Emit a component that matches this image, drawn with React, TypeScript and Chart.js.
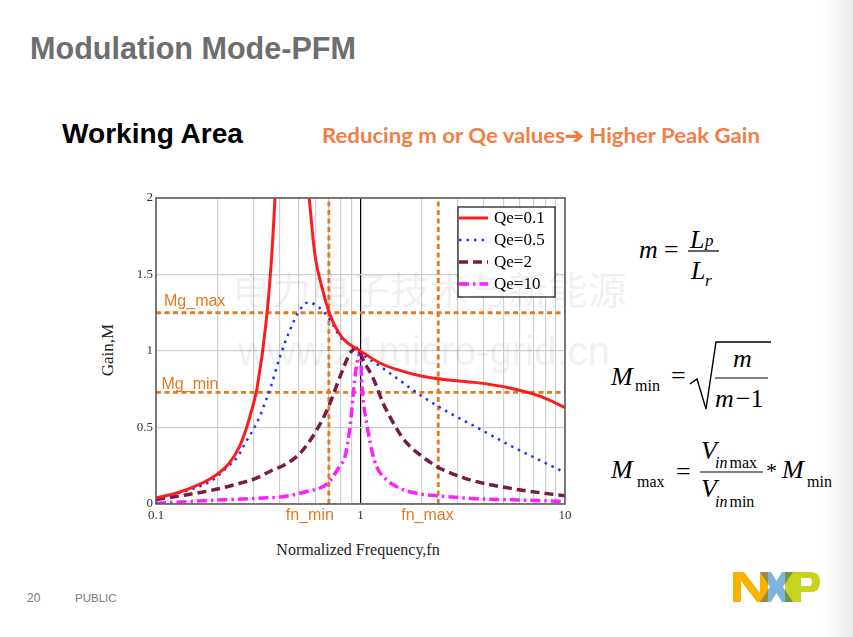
import React, { useEffect, useRef } from "react";
import { Chart, registerables } from "chart.js";

Chart.register(...registerables);

// ---- data ----
const FN_QE01 = [0.1, 0.125, 0.157, 0.197, 0.228, 0.256, 0.275, 0.291, 0.303, 0.311, 0.345, 0.368, 0.382, 0.47, 0.561, 0.6, 0.653, 0.704, 0.81, 1.0, 1.25, 1.5, 2.0, 2.7, 3.6, 5.3, 7.7, 10];
const GAIN_QE01 = [0.04, 0.07, 0.118, 0.19, 0.266, 0.375, 0.484, 0.593, 0.68, 0.745, 1.18, 1.62, 2.0, null, 2.0, 1.62, 1.4, 1.25, 1.09, 1.0, 0.92, 0.88, 0.835, 0.81, 0.795, 0.76, 0.7, 0.63];

const FN_QE05 = [0.1, 0.146, 0.189, 0.224, 0.251, 0.27, 0.316, 0.338, 0.36, 0.404, 0.452, 0.5, 0.556, 0.634, 0.71, 0.794, 0.87, 1.0, 1.155, 1.393, 1.67, 2.02, 2.66, 3.64, 5.31, 7.74, 10];
const GAIN_QE05 = [0.035, 0.092, 0.157, 0.244, 0.31, 0.386, 0.549, 0.647, 0.745, 0.963, 1.137, 1.26, 1.318, 1.279, 1.203, 1.094, 1.05, 0.985, 0.93, 0.854, 0.778, 0.7, 0.603, 0.506, 0.387, 0.278, 0.206];

const FN_QE2 = [0.1, 0.14, 0.197, 0.256, 0.308, 0.372, 0.424, 0.506, 0.611, 0.698, 0.794, 0.889, 0.957, 1.05, 1.155, 1.29, 1.393, 1.59, 1.75, 1.96, 2.37, 2.66, 3.64, 5.31, 7.74, 10];
const GAIN_QE2 = [0.03, 0.059, 0.096, 0.135, 0.168, 0.222, 0.255, 0.331, 0.484, 0.636, 0.832, 0.985, 1.018, 0.92, 0.82, 0.658, 0.57, 0.44, 0.375, 0.32, 0.244, 0.211, 0.148, 0.104, 0.072, 0.054];

const FN_QE10 = [0.1, 0.176, 0.308, 0.417, 0.55, 0.684, 0.794, 0.84, 0.889, 0.922, 0.95, 0.98, 1.0, 1.014, 1.035, 1.072, 1.134, 1.2, 1.343, 1.56, 1.88, 2.45, 3.6, 5.31, 10];
const GAIN_QE10 = [0.005, 0.022, 0.037, 0.048, 0.083, 0.13, 0.25, 0.31, 0.505, 0.72, 0.88, 0.97, 1.0, 0.79, 0.66, 0.527, 0.353, 0.244, 0.157, 0.102, 0.07, 0.052, 0.035, 0.028, 0.017];

const SERIES_LABELS = ["Qe=0.1", "Qe=0.5", "Qe=2", "Qe=10"];

const MG_MAX = 1.25;
const MG_MIN = 0.73;
const FN_MIN = 0.7;
const FN_MAX = 2.4;

const X_MIN = 0.1;
const X_MAX = 10;
const Y_MIN = 0;
const Y_MAX = 2;
const X_GRID_TICKS = [0.1, 0.2, 0.3, 0.4, 0.5, 0.6, 0.7, 0.8, 0.9, 1, 2, 3, 4, 5, 6, 7, 8, 9, 10];
const X_TICK_LABELS = [0.1, 1, 10];
const Y_TICKS = [0, 0.5, 1, 1.5, 2];

const zip = (xs: number[], ys: (number | null)[]) => xs.map((x, i) => ({ x, y: ys[i] }));

const ORANGE = "#E07B22";
const SERIF = "'Liberation Serif', 'Times New Roman', serif";
const SANS = "'Liberation Sans', Arial, sans-serif";

const framePlugin = {
  id: "frameAndLegend",
  afterDatasetsDraw(chart: any) {
    const { ctx, chartArea } = chart;
    const { left, top, right, bottom } = chartArea;
    const xs = chart.scales.x;
    const ys = chart.scales.y;
    ctx.save();
    // plot frame
    ctx.strokeStyle = "#555";
    ctx.lineWidth = 1.5;
    ctx.setLineDash([]);
    ctx.strokeRect(left, top, right - left, bottom - top);

    // orange annotation labels
    ctx.fillStyle = ORANGE;
    ctx.font = `16px ${SANS}`;
    ctx.textAlign = "left";
    ctx.textBaseline = "alphabetic";
    ctx.fillText("Mg_max", left + 8, ys.getPixelForValue(MG_MAX) - 7);
    ctx.fillText("Mg_min", left + 5.5, ys.getPixelForValue(MG_MIN) - 3);
    ctx.fillText("fn_min", xs.getPixelForValue(FN_MIN) - 43, bottom + 15.5);
    ctx.fillText("fn_max", xs.getPixelForValue(FN_MAX) - 37, bottom + 15.5);

    // legend box
    const bx = right - 107;
    const by = top + 9;
    const bw = 97;
    const bh = 90;
    ctx.fillStyle = "#fff";
    ctx.fillRect(bx, by, bw, bh);
    ctx.strokeStyle = "#111";
    ctx.lineWidth = 1.2;
    ctx.strokeRect(bx, by, bw, bh);
    ctx.font = `17px ${SERIF}`;
    ctx.textBaseline = "middle";
    SERIES_LABELS.forEach((lbl, i) => {
      const ds = chart.data.datasets[i];
      const cy = by + 11 + i * 22;
      ctx.strokeStyle = ds.borderColor;
      ctx.lineWidth = ds.borderWidth;
      ctx.setLineDash(ds.borderDash || []);
      ctx.beginPath();
      ctx.moveTo(bx + 1, cy);
      ctx.lineTo(bx + 30, cy);
      ctx.stroke();
      ctx.setLineDash([]);
      ctx.fillStyle = "#000";
      ctx.fillText(lbl, bx + 36, cy + 1);
    });
    ctx.restore();
  },
};

function ChartBox() {
  const ref = useRef<HTMLCanvasElement | null>(null);
  useEffect(() => {
    if (!ref.current) return;
    const curve = (label: string, xs: number[], ys: (number | null)[], color: string, width: number, dash: number[]) => ({
      label,
      data: zip(xs, ys),
      borderColor: color,
      borderWidth: width,
      borderDash: dash,
      pointRadius: 0,
      cubicInterpolationMode: "monotone",
      spanGaps: false,
      fill: false,
      order: 0,
    });
    const refLine = (pts: { x: number; y: number }[]) => ({
      label: "",
      data: pts,
      borderColor: ORANGE,
      borderWidth: 2.8,
      borderDash: [5, 3.5],
      pointRadius: 0,
      tension: 0,
      fill: false,
      order: 1,
    });
    const chart = new Chart(ref.current, {
      type: "line",
      data: {
        datasets: [
          curve(SERIES_LABELS[0], FN_QE01, GAIN_QE01, "#FF1C1C", 3, []),
          curve(SERIES_LABELS[1], FN_QE05, GAIN_QE05, "#2233FF", 2.5, [2.5, 5]),
          curve(SERIES_LABELS[2], FN_QE2, GAIN_QE2, "#7A1A48", 3.5, [9, 5]),
          curve(SERIES_LABELS[3], FN_QE10, GAIN_QE10, "#FF1EFF", 3.5, [10, 4, 2.5, 4]),
          refLine([{ x: X_MIN, y: MG_MAX }, { x: X_MAX, y: MG_MAX }]),
          refLine([{ x: X_MIN, y: MG_MIN }, { x: X_MAX, y: MG_MIN }]),
          refLine([{ x: FN_MIN, y: Y_MIN }, { x: FN_MIN, y: Y_MAX }]),
          refLine([{ x: FN_MAX, y: Y_MIN }, { x: FN_MAX, y: Y_MAX }]),
        ] as any,
      },
      options: {
        animation: false,
        responsive: false,
        maintainAspectRatio: false,
        layout: { padding: { left: 0, top: 13, right: 15, bottom: 0 } },
        plugins: { legend: { display: false }, tooltip: { enabled: false } },
        scales: {
          x: {
            type: "logarithmic",
            min: X_MIN,
            max: X_MAX,
            afterBuildTicks: (s: any) => {
              s.ticks = X_GRID_TICKS.map((v) => ({ value: v }));
            },
            afterFit: (s: any) => {
              s.height = 21;
            },
            ticks: {
              autoSkip: false,
              maxRotation: 0,
              padding: 4,
              color: "#333",
              font: { family: SERIF, size: 13 },
              callback: (v: any) => (X_TICK_LABELS.includes(Number(v)) ? String(v) : ""),
            },
            grid: {
              drawTicks: false,
              lineWidth: 1.2,
              color: (c: any) => (c.tick && c.tick.value === 1 ? "#000" : "#cfcfcf"),
            },
            border: { display: false },
          },
          y: {
            type: "linear",
            min: Y_MIN,
            max: Y_MAX,
            afterBuildTicks: (s: any) => {
              s.ticks = Y_TICKS.map((v) => ({ value: v }));
            },
            afterFit: (s: any) => {
              s.width = 66;
            },
            ticks: {
              padding: 3,
              color: "#333",
              font: { family: SERIF, size: 13 },
              callback: (v: any) => String(v),
            },
            grid: { drawTicks: false, lineWidth: 1.2, color: "#cfcfcf" },
            border: { display: false },
          },
        },
      } as any,
      plugins: [framePlugin],
    });
    return () => chart.destroy();
  }, []);
  return (
    <canvas
      ref={ref}
      width={490}
      height={340}
      style={{ position: "absolute", left: 90, top: 185, width: 490, height: 340, zIndex: 1 }}
    />
  );
}

function Slide() {
  const it = { fontStyle: "italic" } as any;
  return (
    <svg width={853} height={637} style={{ position: "absolute", left: 0, top: 0, zIndex: 0 }}>
      <defs>
        <linearGradient id="edge" x1="0" x2="1" y1="0" y2="0">
          <stop offset="0" stopColor="#ffffff" />
          <stop offset="1" stopColor="#ebebeb" />
        </linearGradient>
        <clipPath id="clipN">
          <rect x={760} y={570} width={8} height={34} />
        </clipPath>
        <clipPath id="clipP">
          <rect x={785} y={570} width={8} height={34} />
        </clipPath>
      </defs>
      <rect x={822} y={0} width={31} height={637} fill="url(#edge)" />
      {/* titles */}
      <text x={30} y={59} fontFamily={SANS} fontWeight="bold" fontSize={31} fill="#6e6e6e" textLength={326} lengthAdjust="spacingAndGlyphs">
        Modulation Mode-PFM
      </text>
      <text x={62} y={143} fontFamily={SANS} fontWeight="bold" fontSize={27} fill="#000" textLength={181} lengthAdjust="spacingAndGlyphs">
        Working Area
      </text>
      <text x={322} y={143} fontFamily="Lato, 'Open Sans', sans-serif" fontWeight="bold" fontSize={21} fill="#F27E45" textLength={438} lengthAdjust="spacingAndGlyphs">
        Reducing m or Qe values➔ Higher Peak Gain
      </text>

      {/* axis titles */}
      <text transform="translate(113,350) rotate(-90)" textAnchor="middle" fontFamily={SERIF} fontSize={17} fill="#222">
        Gain,M
      </text>
      <text x={358} y={555} textAnchor="middle" fontFamily={SERIF} fontSize={16} fill="#222">
        Normalized Frequency,fn
      </text>

      {/* formula 1: m = Lp / Lr */}
      <g fontFamily={SERIF} fill="#000">
        <text x={639} y={258} fontSize={26} {...it}>m</text>
        <text x={664} y={258} fontSize={26}>=</text>
        <line x1={688} x2={719} y1={251} y2={251} stroke="#000" strokeWidth={1.2} />
        <text x={690} y={248} fontSize={26} {...it}>L</text>
        <text x={705} y={246} fontSize={17} {...it}>p</text>
        <text x={691} y={279} fontSize={26} {...it}>L</text>
        <text x={705} y={286} fontSize={17} {...it}>r</text>

        {/* formula 2: Mmin = sqrt(m/(m-1)) */}
        <text x={611} y={385} fontSize={26} {...it}>M</text>
        <text x={635} y={391} fontSize={16}>min</text>
        <text x={671} y={384} fontSize={26}>=</text>
        <polyline points="690,384 697,379 706,409 716,342 771,342" fill="none" stroke="#000" strokeWidth={1.4} />
        <text x={733} y={367} fontSize={26} {...it}>m</text>
        <line x1={715} x2={768} y1={378} y2={378} stroke="#000" strokeWidth={1.2} />
        <text x={715} y={407} fontSize={26}>
          <tspan {...it}>m</tspan>
          <tspan dx={2}>−1</tspan>
        </text>

        {/* formula 3: Mmax = Vinmax/Vinmin * Mmin */}
        <text x={611} y={478} fontSize={26} {...it}>M</text>
        <text x={637} y={487} fontSize={16}>max</text>
        <text x={676} y={480} fontSize={26}>=</text>
        <line x1={700} x2={763} y1={472} y2={472} stroke="#000" strokeWidth={1.2} />
        <text x={701} y={459} fontSize={26} {...it}>V</text>
        <text x={715} y={468} fontSize={16}>
          <tspan {...it}>in</tspan>
          <tspan dx={2}>max</tspan>
        </text>
        <text x={701} y={497} fontSize={26} {...it}>V</text>
        <text x={715} y={507} fontSize={16}>
          <tspan {...it}>in</tspan>
          <tspan dx={2}>min</tspan>
        </text>
        <text x={766} y={478} fontSize={22}>*</text>
        <text x={782} y={478} fontSize={26} {...it}>M</text>
        <text x={807} y={487} fontSize={16}>min</text>
      </g>

      {/* footer */}
      <text x={27} y={602} fontFamily={SANS} fontSize={12} fill="#7a7a7a">20</text>
      <text x={75} y={602} fontFamily={SANS} fontSize={11.5} fill="#7a7a7a">PUBLIC</text>

      {/* NXP logo */}
      <g>
        <polygon points="733,572 744,572 760,593 760,572 768,572 768,602 757,602 741,581 741,602 733,602" fill="#F9B200" />
        <path d="M793 572 H811 Q820 572 820 582 Q820 592 811 592 H801 V602 H785 V572 Z M801 578 V586 H809 Q812 586 812 582 Q812 578 809 578 Z" fill="#C8D31E" fillRule="evenodd" />
        <polygon points="760,572 771,572 776.5,581 782,572 793,572 783,587 793,602 782,602 776.5,593 771,602 760,602 770,587" fill="#7DB3DE" />
        <polygon points="760,572 771,572 776.5,581 782,572 793,572 783,587 793,602 782,602 776.5,593 771,602 760,602 770,587" fill="#9B8C3E" clipPath="url(#clipN)" />
        <polygon points="760,572 771,572 776.5,581 782,572 793,572 783,587 793,602 782,602 776.5,593 771,602 760,602 770,587" fill="#6F9A3C" clipPath="url(#clipP)" />
      </g>
    </svg>
  );
}

function Watermark() {
  return (
    <svg width={853} height={637} style={{ position: "absolute", left: 0, top: 0, zIndex: 2, pointerEvents: "none" }}>
      <g fill="#000" opacity={0.055}>
        <text x={232} y={304} fontFamily="'Noto Sans CJK SC', sans-serif" fontSize={38} textLength={395} lengthAdjust="spacingAndGlyphs">
          电力电子技术与新能源
        </text>
        <text x={238} y={365} fontFamily={SANS} fontSize={40} textLength={372} lengthAdjust="spacingAndGlyphs">
          www.21micro-grid.cn
        </text>
      </g>
    </svg>
  );
}

export default function App() {
  return (
    <div style={{ position: "fixed", left: 0, top: 0, width: 853, height: 637, background: "#fff", overflow: "hidden" }}>
      <Slide />
      <ChartBox />
      <Watermark />
    </div>
  );
}
